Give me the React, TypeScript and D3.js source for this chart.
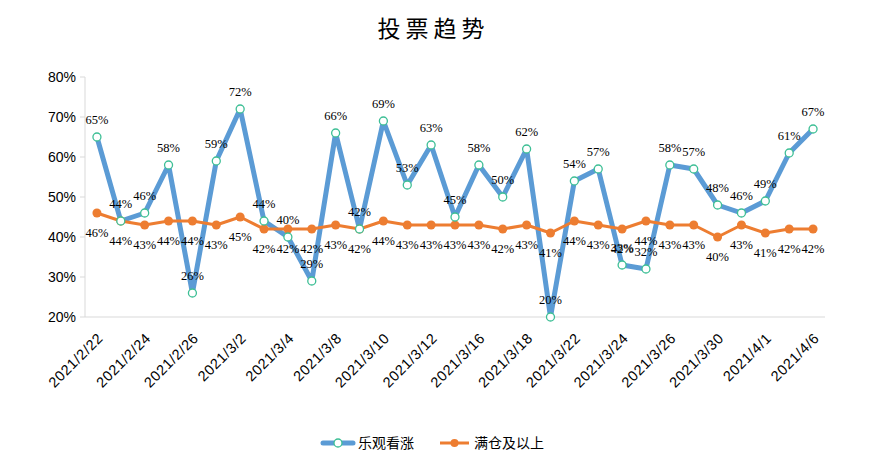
// @ts-nocheck
import * as d3 from "d3";

const dates = [
    "2021/2/22", "2021/2/23", "2021/2/24", "2021/2/25", "2021/2/26", "2021/3/1",
    "2021/3/2", "2021/3/3", "2021/3/4", "2021/3/5", "2021/3/8", "2021/3/9",
    "2021/3/10", "2021/3/11", "2021/3/12", "2021/3/15", "2021/3/16", "2021/3/17",
    "2021/3/18", "2021/3/19", "2021/3/22", "2021/3/23", "2021/3/24", "2021/3/25",
    "2021/3/26", "2021/3/29", "2021/3/30", "2021/3/31", "2021/4/1", "2021/4/2",
    "2021/4/6",
];
const bullish = [
    65, 44, 46, 58, 26, 59, 72, 44, 40, 29, 66, 42, 69, 53, 63, 45, 58, 50, 62, 20,
    54, 57, 33, 32, 58, 57, 48, 46, 49, 61, 67,
];
const fullPos = [
    46, 44, 43, 44, 44, 43, 45, 42, 42, 42, 43, 42, 44, 43, 43, 43, 43, 42, 43, 41,
    44, 43, 42, 44, 43, 43, 40, 43, 41, 42, 42,
];
const yTicks = [20, 30, 40, 50, 60, 70, 80];
const seriesNames = ["乐观看涨", "满仓及以上"];

const W = 871;
const H = 472;
const margin = { left: 85, right: 46, top: 77, bottom: 155 };
const BLUE = "#5b9bd5";
const ORANGE = "#ed7d31";
const TEAL = "#3dbf95";

export default function App() {
    const x = d3
        .scaleBand()
        .domain(dates)
        .range([margin.left, W - margin.right]);
    const y = d3
        .scaleLinear()
        .domain([20, 80])
        .range([H - margin.bottom, margin.top]);
    const cx = (d) => x(d) + x.bandwidth() / 2;

    const line = d3
        .line()
        .x((d) => cx(d[0]))
        .y((d) => y(d[1]));

    const bPts = dates.map((d, i) => [d, bullish[i]]);
    const oPts = dates.map((d, i) => [d, fullPos[i]]);
    const baseY = y(20);

    return (
        <svg width={W} height={H} style={{ display: "block", position: "absolute", left: 0, top: 0 }}>
            <rect width={W} height={H} fill="#fff" />
            <text
                x={W / 2 - 2}
                y={37}
                textAnchor="middle"
                fontSize={23}
                fontFamily="'Noto Sans CJK SC', sans-serif"
                letterSpacing={5}
                fill="#000"
            >
                投票趋势
            </text>

            {/* axes */}
            <line x1={margin.left} x2={margin.left} y1={y(80)} y2={baseY} stroke="#d9d9d9" />
            <line x1={margin.left} x2={W - margin.right} y1={baseY} y2={baseY} stroke="#d9d9d9" />
            {yTicks.map((t) => (
                <g key={t}>
                    <line x1={margin.left - 5} x2={margin.left} y1={y(t)} y2={y(t)} stroke="#d9d9d9" />
                    <text
                        x={margin.left - 9}
                        y={y(t) + 5}
                        textAnchor="end"
                        fontSize={14}
                        fontFamily="'Liberation Sans', Arial, sans-serif"
                        fill="#000"
                    >
                        {t}%
                    </text>
                </g>
            ))}
            {dates.map((d, i) =>
                i % 2 === 0 ? (
                    <text
                        key={d}
                        transform={`translate(${cx(d) + 7},${baseY + 22}) rotate(-45)`}
                        textAnchor="end"
                        fontSize={14.5}
                        letterSpacing={0.6}
                        fontFamily="'Liberation Sans', Arial, sans-serif"
                        fill="#000"
                    >
                        {d}
                    </text>
                ) : null
            )}

            {/* lines */}
            <path d={line(bPts)} fill="none" stroke={BLUE} strokeWidth={5} strokeLinejoin="round" />
            <path d={line(oPts)} fill="none" stroke={ORANGE} strokeWidth={3} strokeLinejoin="round" />
            {oPts.map((p) => (
                <circle key={`o-${p[0]}`} cx={cx(p[0])} cy={y(p[1])} r={4.5} fill={ORANGE} />
            ))}
            {bPts.map((p) => (
                <circle
                    key={`b-${p[0]}`}
                    cx={cx(p[0])}
                    cy={y(p[1])}
                    r={4}
                    fill="#fff"
                    stroke={TEAL}
                    strokeWidth={1.3}
                />
            ))}

            {/* data labels */}
            {bPts.map((p) => (
                <text
                    key={`bl-${p[0]}`}
                    x={cx(p[0])}
                    y={y(p[1]) - 13}
                    textAnchor="middle"
                    fontSize={12.5}
                    fontFamily="'Liberation Serif', serif"
                    fill="#000"
                >
                    {p[1]}%
                </text>
            ))}
            {oPts.map((p) => (
                <text
                    key={`ol-${p[0]}`}
                    x={cx(p[0])}
                    y={y(p[1]) + 24}
                    textAnchor="middle"
                    fontSize={12.5}
                    fontFamily="'Liberation Serif', serif"
                    fill="#000"
                >
                    {p[1]}%
                </text>
            ))}

            {/* legend */}
            <g transform="translate(323,443)">
                <line x1={0} x2={30} y1={0} y2={0} stroke={BLUE} strokeWidth={5} strokeLinecap="round" />
                <circle cx={15} cy={0} r={4} fill="#fff" stroke={TEAL} strokeWidth={1.3} />
                <text x={35} y={5} fontSize={14} fontFamily="'Noto Sans CJK SC', sans-serif" fill="#000">
                    {seriesNames[0]}
                </text>
            </g>
            <g transform="translate(440,443)">
                <line x1={0} x2={29} y1={0} y2={0} stroke={ORANGE} strokeWidth={3} />
                <circle cx={14.5} cy={0} r={4} fill={ORANGE} />
                <text x={34} y={5} fontSize={14} fontFamily="'Noto Sans CJK SC', sans-serif" fill="#000">
                    {seriesNames[1]}
                </text>
            </g>
        </svg>
    );
}
